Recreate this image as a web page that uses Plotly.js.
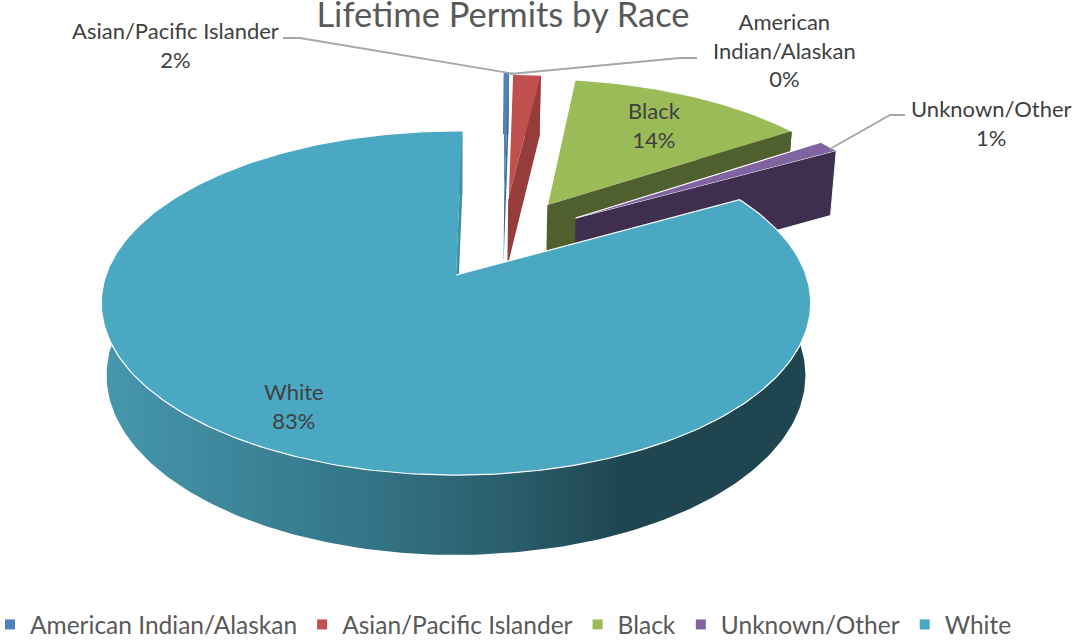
<!DOCTYPE html>
<html>
<head>
<meta charset="utf-8">
<script src="https://cdn.plot.ly/plotly-3.0.1.min.js"></script>
<style>html,body{margin:0;padding:0;background:#fff}</style>
</head>
<body>
<div id="chart" style="width:1083px;height:642px"></div>
<script>
// Data
const categories = ['American Indian/Alaskan', 'Asian/Pacific Islander', 'Black', 'Unknown/Other', 'White'];
const shares = [0.3, 1.6, 13.5, 1.2, 83.4];

// Styling
const topColors = ['#4f81bd', '#c0504d', '#9bbb59', '#8064a2', '#4aa8c3'];
const darkColors = ['#3f6797', '#963d3b', '#4f5f2d', '#3f2e50', '#1f4650'];
const wallScale = [[0, '#4697ae'], [0.5, '#347587'], [0.78, '#2a5e6d'], [1, '#1f4650']];
const pullU = [0.149, 0.161, 0.28, 0.362, 0];
const pullV = [0.5, 0.49, 0.448, 0.36, 0];
const labelX = [784, 175, 654, 991, 294];
const labelY = [49.5, 45, 125, 122.5, 406];
const rotation = 1.2;

// 3D pie projection
const cx = 456, cy = 275, R = 350, S = 167.5, k = 0.163, H = 71, k2 = 0.11, bottomScale = 0.985;
function project(u, v, low) {
  const d = 1 + k * v;
  return [cx + (low ? R * bottomScale : R) * u / d,
          cy - S * v / d + (low ? H / (1 + k2 * v) : 0)];
}
function rimPoints(i, a0, a1, low) {
  const pts = [], n = Math.max(2, Math.ceil(Math.abs(a1 - a0)));
  for (let j = 0; j <= n; j++) {
    const t = (a0 + (a1 - a0) * j / n) * Math.PI / 180;
    pts.push(project(pullU[i] + Math.sin(t), pullV[i] + Math.cos(t), low));
  }
  return pts;
}
function poly(pts, fill, lineW, extra) {
  return Object.assign({
    type: 'scatter', mode: 'lines', x: pts.map(p => p[0]), y: pts.map(p => p[1]),
    fill: 'toself', fillcolor: fill, line: {color: '#ffffff', width: lineW},
    hoverinfo: 'skip', showlegend: false
  }, extra || {});
}

const traces = [];
let angle = rotation;
const total = shares.reduce((a, b) => a + b, 0);
shares.forEach((value, i) => {
  const a0 = angle, a1 = angle + value / total * 360;
  angle = a1;
  const topArc = rimPoints(i, a0, a1, false);
  const lowArc = rimPoints(i, a0, a1, true);
  const apexTop = project(pullU[i], pullV[i], false);
  const apexLow = project(pullU[i], pullV[i], true);
  const endTop = topArc[topArc.length - 1], endLow = lowArc[lowArc.length - 1];
  const wall = topArc.concat(lowArc.slice().reverse());
  const isWhite = categories[i] === 'White';
  traces.push(poly(wall, darkColors[i], 0, isWhite ? {
    fillgradient: {type: 'horizontal', colorscale: wallScale, start: 102, stop: 620}
  } : {}));
  traces.push(poly([apexTop, endTop, endLow, apexLow],
    isWhite ? '#3f8ea6' : darkColors[i], categories[i] === 'Unknown/Other' ? 1 : 0));
  traces.push(poly([apexTop].concat(topArc), topColors[i], value < 1 ? 0 : 1.2));
});

// Leader lines
const leaders = [
  [[283, 38], [300, 38], [515, 74]],
  [[697, 58], [680, 58], [510, 74]],
  [[905, 115], [890, 115], [830, 149]]
];
leaders.forEach(l => traces.push({
  type: 'scatter', mode: 'lines', x: l.map(p => p[0]), y: l.map(p => p[1]),
  line: {color: '#a6a6a6', width: 1.8}, hoverinfo: 'skip', showlegend: false
}));

// Legend entries
categories.forEach((name, i) => traces.push({
  type: 'scatter', mode: 'markers', x: [null], y: [null], name: name,
  marker: {symbol: 'square', size: 10, color: topColors[i]}, hoverinfo: 'skip'
}));

const font = 'Lato, "Open Sans", sans-serif';
const annotations = categories.map((name, i) => ({
  x: labelX[i], y: labelY[i], xref: 'x', yref: 'y', showarrow: false,
  xanchor: 'center', yanchor: 'middle', align: 'center',
  text: name.replace('American Indian', 'American<br>Indian') + '<br>' + Math.round(shares[i]) + '%',
  font: {family: font, size: 22, color: '#404040'}
}));

const layout = {
  width: 1083, height: 642, autosize: false,
  margin: {l: 0, r: 0, t: 0, b: 0, autoexpand: false},
  paper_bgcolor: '#ffffff', plot_bgcolor: '#ffffff',
  title: {text: 'Lifetime Permits by Race', x: 503 / 1083, xanchor: 'center',
          y: 1 - 14.5 / 642, yanchor: 'middle', font: {family: font, size: 34.5, color: '#595959'}},
  xaxis: {range: [0, 1083], visible: false, fixedrange: true},
  yaxis: {range: [642, 0], visible: false, fixedrange: true},
  showlegend: true,
  legend: {orientation: 'h', x: -10 / 1083, xanchor: 'left', y: -5 / 642, yanchor: 'bottom', itemwidth: 30,
           font: {family: font, size: 24.5, color: '#595959'}, bgcolor: 'rgba(0,0,0,0)', traceorder: 'normal'},
  annotations: annotations
};
Plotly.newPlot('chart', traces, layout, {displayModeBar: false, responsive: false});
</script>
</body>
</html>
